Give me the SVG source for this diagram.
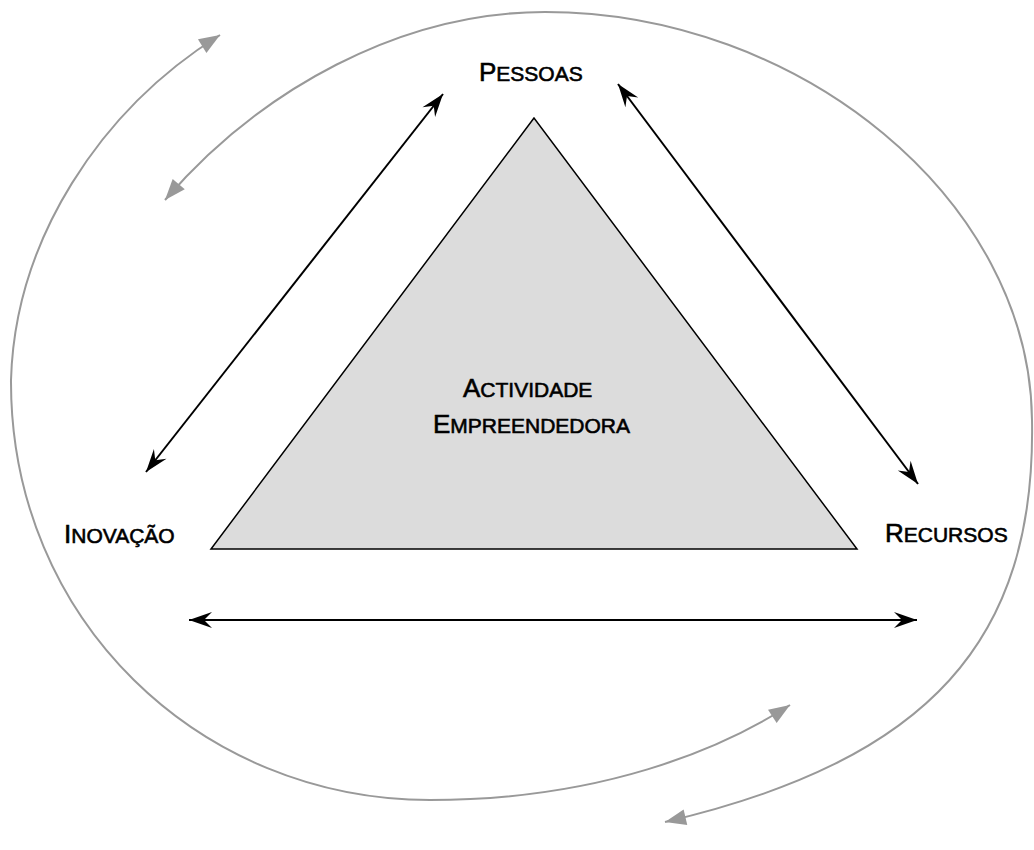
<svg xmlns="http://www.w3.org/2000/svg" width="1034" height="850" viewBox="0 0 1034 850">
  <style>
    .loop { fill: none; stroke: #999999; stroke-width: 2; }
    .link { fill: none; stroke: #000000; stroke-width: 2; }
    .label { font-family: "Liberation Sans", Arial, sans-serif; font-size: 21px; fill: #000000; stroke: #000000; stroke-width: 0.6; }
    .big { font-size: 26px; }
  </style>
  <defs>
    <marker id="grayHead" viewBox="-22 -9 24 18" markerWidth="24" markerHeight="18" refX="0" refY="0" markerUnits="userSpaceOnUse" orient="auto-start-reverse">
      <path d="M0,0 L-21,-8 L-21,8 Z" fill="#999999"/>
    </marker>
    <marker id="blackHead" viewBox="-24 -10 26 20" markerWidth="26" markerHeight="20" refX="0" refY="0" markerUnits="userSpaceOnUse" orient="auto-start-reverse">
      <path d="M0,0 L-23,-8 L-15,0 L-23,8 Z" fill="#000000"/>
    </marker>
  </defs>

  <!-- outer feedback loops -->
  <g id="connectors">
    <path class="loop" d="M220,35 C100,110 15,240 11,380 C10,620 200,800 430,800 C600,800 720,750 790,705" marker-start="url(#grayHead)" marker-end="url(#grayHead)"/>
    <path class="loop" d="M165,200 C260,90 400,12 545,12 C800,12 1030,200 1032,420 C1036,640 930,760 665,822" marker-start="url(#grayHead)" marker-end="url(#grayHead)"/>

    <!-- links between the three factors -->
    <line class="link" x1="443" y1="94" x2="146" y2="472" marker-start="url(#blackHead)" marker-end="url(#blackHead)"/>
    <line class="link" x1="618" y1="84" x2="918" y2="484" marker-start="url(#blackHead)" marker-end="url(#blackHead)"/>
    <line class="link" x1="189" y1="620" x2="917" y2="620" marker-start="url(#blackHead)" marker-end="url(#blackHead)"/>
  </g>

  <!-- central activity -->
  <g id="actividade">
    <polygon points="534,118 211,549 857,549" fill="#dcdcdc" stroke="#000000" stroke-width="1.5"/>
    <text class="label" x="463" y="397"><tspan class="big">A</tspan>CTIVIDADE</text>
    <text class="label" x="433" y="433"><tspan class="big">E</tspan>MPREENDEDORA</text>
  </g>

  <g id="pessoas">
    <text class="label" x="479" y="81"><tspan class="big">P</tspan>ESSOAS</text>
  </g>

  <g id="inovacao">
    <text class="label" x="64" y="543"><tspan class="big">I</tspan>NOVAÇÃO</text>
  </g>

  <g id="recursos">
    <text class="label" x="885" y="542"><tspan class="big">R</tspan>ECURSOS</text>
  </g>
</svg>
